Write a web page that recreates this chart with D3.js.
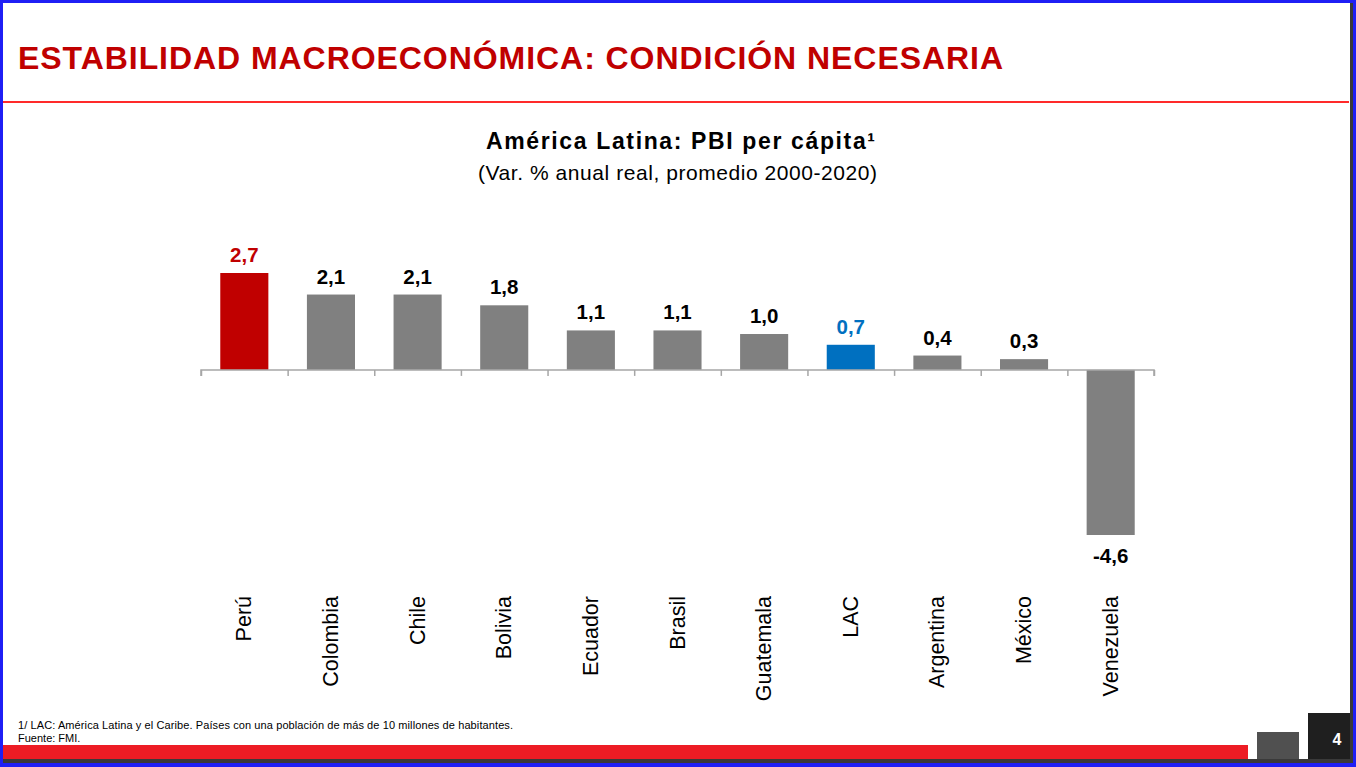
<!DOCTYPE html>
<html><head><meta charset="utf-8">
<script src="https://cdn.jsdelivr.net/npm/d3@7"></script>
<style>html,body{margin:0;padding:0;background:#fff;overflow:hidden}svg{display:block;font-family:"Liberation Sans",Arial,sans-serif}</style>
</head><body>
<script>
const categories = ["Perú","Colombia","Chile","Bolivia","Ecuador","Brasil","Guatemala","LAC","Argentina","México","Venezuela"];
const values = [2.7, 2.1, 2.1, 1.8, 1.1, 1.1, 1.0, 0.7, 0.4, 0.3, -4.6];
const valueLabels = ["2,7","2,1","2,1","1,8","1,1","1,1","1,0","0,7","0,4","0,3","-4,6"];
const barColors = {"Perú":"#C00000","LAC":"#0070C0"};
const labelColors = {"Perú":"#C00000","LAC":"#0070C0"};
const mainTitle = "ESTABILIDAD MACROECONÓMICA: CONDICIÓN NECESARIA";
const chartTitle = "América Latina: PBI per cápita¹";
const chartSubtitle = "(Var. % anual real, promedio 2000-2020)";
const footnotes = ["1/ LAC: América Latina y el Caribe. Países con una población de más de 10 millones de habitantes.","Fuente: FMI."];
const pageNumber = "4";

const W = 1356, H = 767;
const svg = d3.select("body").append("svg").attr("width", W).attr("height", H);

svg.append("rect").attr("x",0).attr("y",0).attr("width",W).attr("height",H).attr("fill","#fff");
// title
svg.append("text").attr("x",18).attr("y",69).attr("fill","#C00000").attr("font-weight","bold")
  .attr("font-size",32).attr("textLength",985).attr("lengthAdjust","spacing").text(mainTitle);
svg.append("rect").attr("x",3).attr("y",101).attr("width",1346).attr("height",2).attr("fill","#ff2a2a");

// chart titles
svg.append("text").attr("x",486).attr("y",149).attr("font-weight","bold")
  .attr("font-size",23).attr("textLength",389).attr("lengthAdjust","spacing").attr("fill","#000").text(chartTitle);
svg.append("text").attr("x",478).attr("y",180)
  .attr("font-size",21).attr("textLength",399).attr("lengthAdjust","spacing").attr("fill","#000").text(chartSubtitle);

// scales
const x = d3.scaleBand().domain(categories).range([201,1154]).paddingInner(0.445).paddingOuter(0.2225);
const y = d3.scaleLinear().domain([-4.6, 2.7]).range([535, 273]);

const g = svg.append("g");
g.selectAll("rect.bar").data(categories).join("rect").attr("class","bar")
  .attr("x", d => x(d))
  .attr("width", x.bandwidth())
  .attr("y", (d,i) => Math.min(y(values[i]), y(0)))
  .attr("height", (d,i) => Math.abs(y(values[i]) - y(0)))
  .attr("fill", d => barColors[d] || "#808080");

// axis with ticks at category boundaries
const step = x.step();
const x0 = x.range()[0];
const axisScale = d3.scaleLinear().domain([0, categories.length]).range([x0, x0 + step*categories.length]);
const axis = d3.axisBottom(axisScale).tickValues(d3.range(0, categories.length+1)).tickSize(6).tickFormat("");
const ax = svg.append("g").attr("transform",`translate(0,${y(0)})`).call(axis);
ax.selectAll("path,line").attr("stroke","#a6a6a6").attr("stroke-width",1.5);
ax.select("path").attr("d", `M${x0},6V0H${x0+step*categories.length}V6`);

// value labels
g.selectAll("text.val").data(categories).join("text").attr("class","val")
  .attr("x", d => x(d) + x.bandwidth()/2)
  .attr("y", (d,i) => values[i] >= 0 ? y(values[i]) - 11 : y(values[i]) + 28)
  .attr("text-anchor","middle").attr("font-weight","bold").attr("font-size",20.5)
  .attr("fill", d => labelColors[d] || "#000")
  .text((d,i) => valueLabels[i]);

// category labels
g.selectAll("text.cat").data(categories).join("text").attr("class","cat")
  .attr("transform", d => `translate(${x(d) + x.bandwidth()/2 + 7},596) rotate(-90)`)
  .attr("text-anchor","end").attr("font-size",21.5).attr("fill","#000")
  .text(d => d);

// footnotes
footnotes.forEach((t,i) => {
  const el = svg.append("text").attr("x",18).attr("y",729 + i*13).attr("font-size",11).attr("fill","#000").text(t);
  if (i === 0) el.attr("textLength",495).attr("lengthAdjust","spacing");
});

// bottom decorations
svg.append("rect").attr("x",3).attr("y",745).attr("width",1245).attr("height",14).attr("fill","#ed1c24");
svg.append("rect").attr("x",1257).attr("y",732).attr("width",42).attr("height",27).attr("fill","#505050");
svg.append("rect").attr("x",1308).attr("y",713).attr("width",42).attr("height",46).attr("fill","#1f1f1f");
svg.append("text").attr("x",1337).attr("y",745).attr("text-anchor","middle").attr("font-weight","bold")
  .attr("font-size",16).attr("fill","#fff").text(pageNumber);
svg.append("rect").attr("x",3).attr("y",759).attr("width",1350).attr("height",4).attr("fill","#3a3a3a");
svg.append("rect").attr("x",1350).attr("y",3).attr("width",3).attr("height",760).attr("fill","#3a3a3a");
const blue = "#1f1ff5";
svg.append("rect").attr("x",0).attr("y",0).attr("width",W).attr("height",3).attr("fill",blue);
svg.append("rect").attr("x",0).attr("y",0).attr("width",3).attr("height",H).attr("fill",blue);
svg.append("rect").attr("x",1353).attr("y",0).attr("width",3).attr("height",H).attr("fill",blue);
svg.append("rect").attr("x",0).attr("y",763).attr("width",W).attr("height",4).attr("fill",blue);
</script>
</body></html>
